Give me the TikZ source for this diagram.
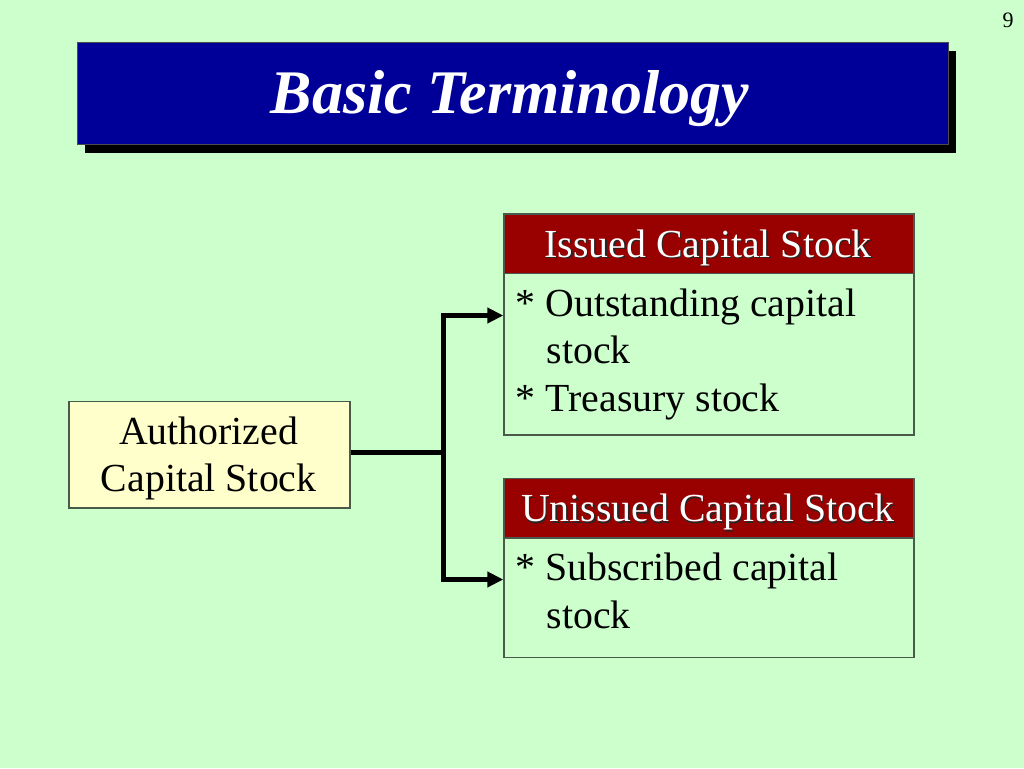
\documentclass[tikz,border=0pt]{standalone}
\usepackage{fontspec}
\setmainfont{Liberation Serif}
\usetikzlibrary{arrows.meta}
\definecolor{bg}{HTML}{CCFFCC}
\definecolor{titleblue}{HTML}{000099}
\definecolor{hdrred}{HTML}{990000}
\definecolor{authfill}{HTML}{FFFFCC}
\definecolor{edge}{HTML}{4A5A4A}
\tikzset{
  bodyfont/.style={font=\fontsize{39.8}{47.5}\selectfont},
  boxframe/.style={draw=edge, line width=1.2pt, inner sep=0pt, anchor=north west},
  hdrbox/.style={boxframe, fill=hdrred},
  hdrtext/.style={bodyfont, text=white, anchor=base, inner sep=0pt},
  hdrshadow/.style={bodyfont, text=black!85, anchor=base, inner sep=0pt},
  itemtext/.style={bodyfont, text=black, anchor=base west, inner sep=0pt},
  conn/.style={line width=4.5pt, draw=black},
}
\begin{document}
\begin{tikzpicture}[x=1pt,y=-1pt]
\useasboundingbox (0,0) rectangle (1024,768);
\fill[bg] (0,0) rectangle (1024,768);

% page number
\node[anchor=base, inner sep=0pt, font=\fontsize{22}{26}\selectfont] (pagenum) at (1008,28) {9};

% title
\fill[black] (85,51) rectangle (956,153);
\node[draw=black!70, line width=1pt, fill=titleblue, minimum width=871pt, minimum height=102pt, inner sep=0pt, anchor=north west] (titlebox) at (76.5,42) {};
\node[anchor=base, inner sep=0pt, text=white, font=\fontsize{62}{70}\selectfont\bfseries\itshape] (titletext) at (510,113) {Basic Terminology};

% left box
\node[boxframe, fill=authfill, minimum width=281pt, minimum height=106.6pt] (auth) at (68.3,400.7) {};
\node[itemtext, anchor=base] (authA) at (208.7,444) {Authorized};
\node[itemtext, anchor=base] (authB) at (208.7,491.7) {Capital Stock};

% issued
\node[hdrbox, minimum width=410pt, minimum height=59.4pt] (isshdr) at (503.3,213.3) {};
\node[boxframe, minimum width=410pt, minimum height=161.6pt] (issbody) at (503.3,272.7) {};
\node[hdrshadow] (isstxs) at (709.5,258.5) {Issued Capital Stock};
\node[hdrtext] (isstxt) at (708,257) {Issued Capital Stock};
\node[itemtext] (iss1) at (515.5,316.5) {* Outstanding capital};
\node[itemtext] (iss2) at (546.5,363.3) {stock};
\node[itemtext] (iss3) at (515.5,411.7) {*\hspace{0.25em}Treasury stock};

% unissued
\node[hdrbox, minimum width=410pt, minimum height=59.6pt] (unihdr) at (503.3,477.7) {};
\node[boxframe, minimum width=410pt, minimum height=119.4pt] (unibody) at (503.3,537.3) {};
\node[hdrshadow] (unitxs) at (709.5,523.2) {Unissued Capital Stock};
\node[hdrtext] (unitxt) at (708,521.7) {Unissued Capital Stock};
\node[itemtext] (uni1) at (515.5,580) {* Subscribed capital};
\node[itemtext] (uni2) at (546.5,628) {stock};

% connectors
\coordinate (jn) at (443.3,452.3);
\coordinate (topin) at (503.3,315.5);
\coordinate (botin) at (503.3,579.5);
\draw[conn] (auth.east |- jn) -- (jn);
\draw[conn, {Triangle[length=16pt,width=15pt]}-{Triangle[length=16pt,width=15pt]}] (topin) -| (jn) |- (botin);
\end{tikzpicture}
\end{document}
